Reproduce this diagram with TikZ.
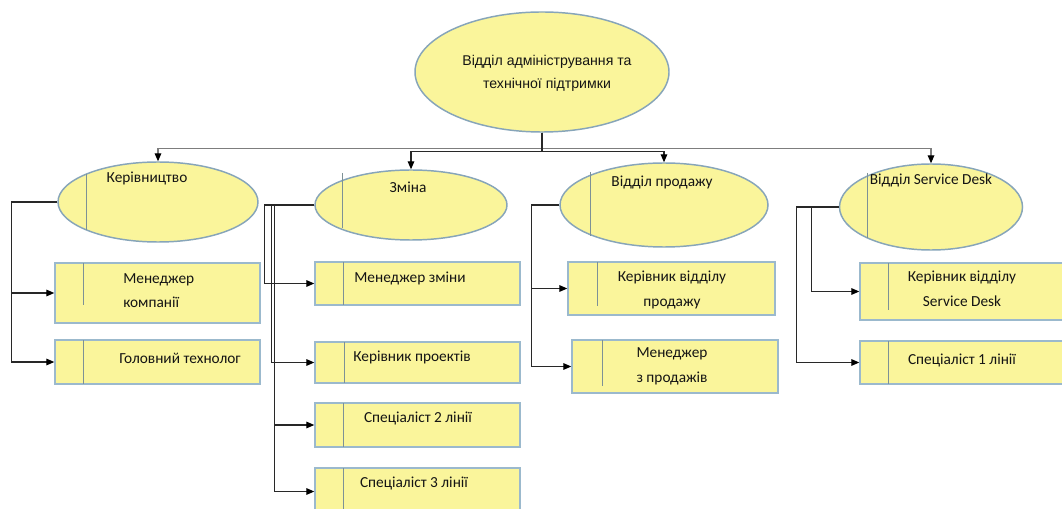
\documentclass[tikz,border=0pt]{standalone}
\usepackage{fontspec}
\setmainfont{Carlito}
\newfontfamily\headfont{Liberation Sans}
\usetikzlibrary{shapes.geometric,arrows.meta}

\definecolor{boxfill}{RGB}{250,245,155}
\definecolor{ovalrim}{RGB}{135,165,185}
\definecolor{boxrim}{RGB}{155,185,205}
\definecolor{divider}{RGB}{125,145,150}
\definecolor{wire}{RGB}{40,40,40}
\definecolor{busgray}{RGB}{125,125,125}

\begin{document}
\begin{tikzpicture}[x=0.75pt,y=-0.75pt,
  oval/.style={ellipse, draw=ovalrim, line width=1.1pt, fill=boxfill, inner sep=0pt},
  post/.style={rectangle, draw=boxrim, line width=1.1pt, fill=boxfill, inner sep=0pt},
  caption/.style={font=\fontsize{11.5}{18.5}\selectfont, text=black!92, align=center, inner sep=0pt},
  wire/.style={draw=wire, line width=0.8pt},
  feed/.style={wire, -{Triangle[length=6pt,width=5pt,color=black]}},
  divline/.style={draw=divider, line width=0.6pt}]

\clip (0,0) rectangle (1062,509);
\fill[white] (0,0) rectangle (1062,509);

% department (top)
\node[oval, minimum width=0.75pt*254, minimum height=0.75pt*120] (dept) at (542,72) {};
\node[caption, font=\headfont\fontsize{10.6}{17.2}\selectfont] (deptT) at (547,73)
  {Відділ адміністрування та\\технічної підтримки};

% second level ovals
\node[oval, minimum width=0.75pt*200, minimum height=0.75pt*80] (kerivn) at (158,202) {};
\node[oval, minimum width=0.75pt*192, minimum height=0.75pt*70] (zmina) at (411,205) {};
\node[oval, minimum width=0.75pt*208, minimum height=0.75pt*84] (prodazh) at (664,205) {};
\node[oval, minimum width=0.75pt*183, minimum height=0.75pt*86] (desk) at (931,207) {};

\draw[divline] (86,174) -- (86,230);
\draw[divline] (342,173) -- (342,228);
\draw[divline] (590,172) -- (590,236);
\draw[divline] (867,173) -- (867,238);

\node[caption] (kerivnT) at (147,178) {Керівництво};
\node[caption] (zminaT) at (408,187) {Зміна};
\node[caption] (prodazhT) at (662,182) {Відділ продажу};
\node[caption] (deskT) at (931,180) {Відділ Service Desk};

% staff boxes
\node[post, minimum width=0.75pt*205, minimum height=0.75pt*60] (a1) at (157.5,293) {};
\node[post, minimum width=0.75pt*205, minimum height=0.75pt*44] (a2) at (157.5,362) {};
\node[post, minimum width=0.75pt*205, minimum height=0.75pt*43] (b1) at (417.5,283.5) {};
\node[post, minimum width=0.75pt*205, minimum height=0.75pt*41] (b2) at (417.5,362.5) {};
\node[post, minimum width=0.75pt*205, minimum height=0.75pt*44] (b3) at (417.5,425) {};
\node[post, minimum width=0.75pt*205, minimum height=0.75pt*47] (b4) at (417.5,491.5) {};
\node[post, minimum width=0.75pt*207, minimum height=0.75pt*53] (c1) at (671.5,288.5) {};
\node[post, minimum width=0.75pt*206, minimum height=0.75pt*53] (c2) at (675,366.5) {};
\node[post, minimum width=0.75pt*215, minimum height=0.75pt*57] (d1) at (967.5,291.5) {};
\node[post, minimum width=0.75pt*215, minimum height=0.75pt*43] (d2) at (967.5,362.5) {};

\draw[divline] (83,263) -- (83,305);
\draw[divline] (83,340) -- (83,384);
\draw[divline] (343,262) -- (343,305);
\draw[divline] (344,342) -- (344,383);
\draw[divline] (343,403) -- (343,447);
\draw[divline] (343,468) -- (343,515);
\draw[divline] (597,262) -- (597,306);
\draw[divline] (602,340) -- (602,386);
\draw[divline] (888,263) -- (888,310);
\draw[divline] (888,341) -- (888,384);

\node[caption, align=left, anchor=west] (a1T) at (123,290.5) {Менеджер\\компанії};
\node[caption] (a2T) at (180,358) {Головний технолог};
\node[caption] (b1T) at (410,278) {Менеджер зміни};
\node[caption] (b2T) at (412,357) {Керівник проектів};
\node[caption] (b3T) at (418,418) {Спеціаліст 2 лінії};
\node[caption] (b4T) at (414,483) {Спеціаліст 3 лінії};
\node[caption] (c1T) at (672,290) {Керівник відділу\\продажу};
\node[caption] (c2T) at (672,366.5) {Менеджер\\з продажів};
\node[caption] (d1T) at (962,289) {Керівник відділу\\Service Desk};
\node[caption] (d2T) at (962,360) {Спеціаліст 1 лінії};

% department to second level
\draw[feed, draw=busgray] (dept.south) -- ++(0,16) -| (kerivn.north);
\draw[feed, draw=busgray] (dept.south) -- ++(0,16) -| (desk.north);
\draw[feed] (dept.south) -- ++(0,19) -| (zmina.north);
\draw[feed] (dept.south) -- ++(0,19) -| (prodazh.north);

% second level to staff
\draw[feed] (kerivn.west) -- ++(-46,0) |- (a1.west);
\draw[feed] (kerivn.west) -- ++(-46,0) |- (a2.west);

\draw[feed] (zmina.west) -- ++(-50,0) |- (b1.west);
\draw[feed] (zmina.west) -- ++(-43,0) |- (b2.west);
\draw[feed] (zmina.west) -- ++(-40,0) |- (b3.west);
\draw[feed] (zmina.west) -- ++(-40,0) |- (b4.west);

\draw[feed] (prodazh.west) -- ++(-28,0) |- (c1.west);
\draw[feed] (prodazh.west) -- ++(-28,0) |- (c2.west);

\draw[feed] (desk.west) -- ++(-27,0) |- (d1.west);
\draw[feed] (desk.west) -- ++(-42,0) |- (d2.west);
\end{tikzpicture}
\end{document}
